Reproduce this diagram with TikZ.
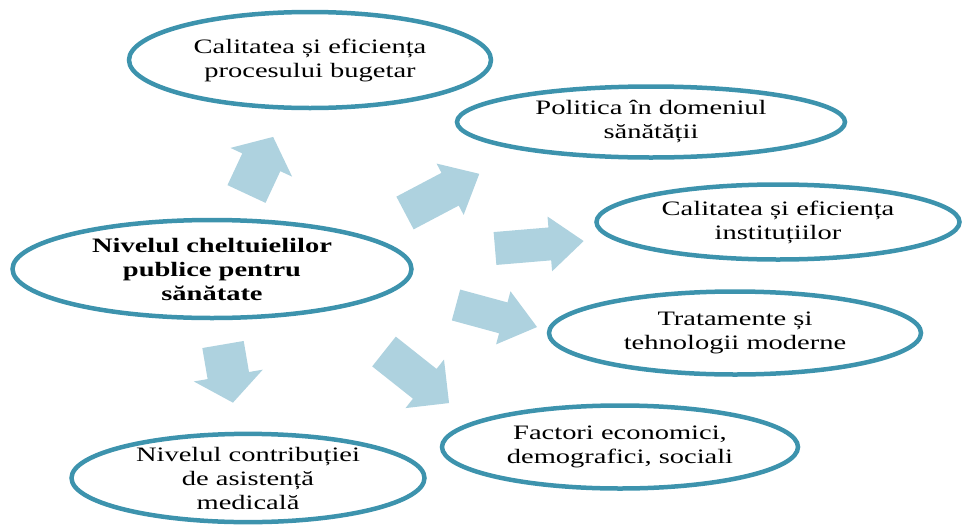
\documentclass[tikz,border=0pt]{standalone}
\usepackage{fontspec}
\setmainfont{Liberation Serif}[FakeStretch=1.39]
\usetikzlibrary{shapes.geometric}
\definecolor{ringblue}{RGB}{61,147,173}
\definecolor{arrowblue}{RGB}{174,210,223}
% #1,#2 base middle, #3 angle, #4 length, #5 body width, #6 head width, #7 head length
\newcommand\blockarrow[7]{%
  \fill[arrowblue, shift={(#1,#2)}, rotate=#3]
    (0,-#5/2) -- (#4-#7,-#5/2) -- (#4-#7,-#6/2) -- (#4,0) --
    (#4-#7,#6/2) -- (#4-#7,#5/2) -- (0,#5/2) -- cycle;}
\begin{document}
\begin{tikzpicture}[x=1pt,y=-1pt,
  oval/.style={ellipse, draw=ringblue, line width=4.5pt, inner sep=0pt,
    align=center, font=\fontsize{20.5}{24}\selectfont}]
\useasboundingbox (0,0) rectangle (978,528);
% arrows
\blockarrow{246.5}{194}{65}{63}{42}{68}{28}
\blockarrow{405}{213}{27.8}{84}{37}{58}{33}
\blockarrow{495}{248.5}{4.8}{89}{33}{55}{34}
\blockarrow{456}{305}{-15.2}{84}{32}{55}{35}
\blockarrow{384}{351.5}{-38.4}{83}{38}{62}{31}
\blockarrow{223}{344.5}{-80.3}{59}{42}{70}{27.5}
% ellipses
\node[oval, minimum width=362, minimum height=96] (buget) at (310,60)
  {Calitatea și eficiența\\procesului bugetar};
\node[oval, minimum width=399, minimum height=98, font=\fontsize{20.5}{24}\selectfont\bfseries] (centru) at (212,269)
  {Nivelul cheltuielilor\\publice pentru\\sănătate};
\node[oval, minimum width=388, minimum height=71] (politica) at (651,122)
  {Politica în domeniul\\sănătății};
\node[oval, minimum width=363, minimum height=75] (instit) at (778,222)
  {Calitatea și eficiența\\instituțiilor};
\node[oval, minimum width=372, minimum height=83] (trat) at (735,333)
  {Tratamente și\\tehnologii moderne};
\node[oval, minimum width=356, minimum height=83] (factori) at (620,447)
  {Factori economici,\\demografici, sociali};
\node[oval, minimum width=353, minimum height=88] (contrib) at (248,478)
  {Nivelul contribuției\\de asistență\\medicală};
\end{tikzpicture}
\end{document}
